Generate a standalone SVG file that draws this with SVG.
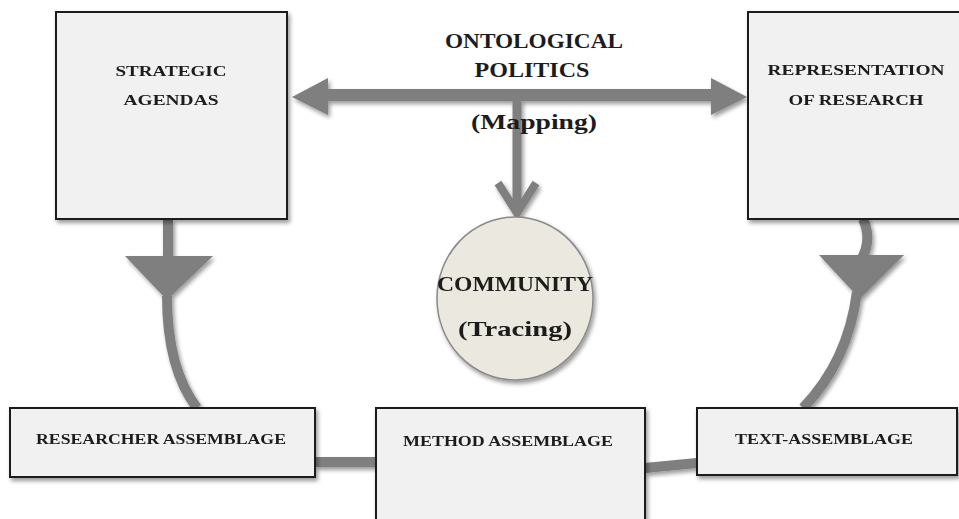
<svg xmlns="http://www.w3.org/2000/svg" width="959" height="519" viewBox="0 0 959 519">
  <defs>
    <filter id="sh" x="-20%" y="-20%" width="140%" height="150%">
      <feGaussianBlur in="SourceAlpha" stdDeviation="2.2"/>
      <feOffset dx="2" dy="3" result="b"/>
      <feComponentTransfer><feFuncA type="linear" slope="0.4"/></feComponentTransfer>
      <feMerge><feMergeNode/><feMergeNode in="SourceGraphic"/></feMerge>
    </filter>
    <style>
      .box { fill: #f1f1f1; stroke: #1a1a1a; stroke-width: 2; }
      .lbl { font-family: "Liberation Serif", "DejaVu Serif", serif; font-weight: bold; fill: #1c1c1c; text-anchor: middle; }
      .sm { font-size: 15px; }
      .big { font-size: 21px; }
      .line { fill: none; stroke: #7f7f7f; stroke-linecap: butt; }
      .head { fill: #7f7f7f; }
    </style>
  </defs>
  <rect width="959" height="519" fill="#ffffff"/>

  <g id="connectors" filter="url(#sh)">
    <!-- ontological politics double arrow -->
    <rect x="325" y="89" width="389" height="12" class="head"/>
    <polygon class="head" points="292,97 328,78 328,115"/>
    <polygon class="head" points="747,97 711,78 711,115"/>
    <!-- vertical to community -->
    <line class="line" x1="517" y1="95" x2="517" y2="212" stroke-width="9"/>
    <polyline class="line" points="498,183 517,213 536,183" stroke-width="8" stroke-linejoin="miter"/>
    <!-- strategic agendas to researcher assemblage -->
    <line class="line" x1="168" y1="219" x2="168" y2="258" stroke-width="10"/>
    <polygon class="head" points="125,256 213,256 167,300"/>
    <path class="line" d="M167,296 C167,345 178,383 197,408" stroke-width="10"/>
    <!-- representation to text assemblage -->
    <path class="line" d="M863,219 C869,232 869,245 862,258" stroke-width="10"/>
    <polygon class="head" points="819,255 904,255 860,299"/>
    <path class="line" d="M857,292 C851,338 834,376 803,408" stroke-width="10"/>
    <!-- researcher to method -->
    <line class="line" x1="315" y1="462" x2="377" y2="462" stroke-width="10"/>
    <!-- method to text -->
    <line class="line" x1="645" y1="468" x2="697" y2="463" stroke-width="10"/>
  </g>

  <g id="strategic-agendas" filter="url(#sh)">
    <rect class="box" x="56" y="12" width="231" height="207"/>
    <text class="lbl sm" x="171" y="76" textLength="111" lengthAdjust="spacingAndGlyphs">STRATEGIC</text>
    <text class="lbl sm" x="171" y="105" textLength="95" lengthAdjust="spacingAndGlyphs">AGENDAS</text>
  </g>

  <g id="representation-of-research" filter="url(#sh)">
    <rect class="box" x="748" y="12" width="215" height="207"/>
    <text class="lbl sm" x="856" y="75" textLength="177" lengthAdjust="spacingAndGlyphs">REPRESENTATION</text>
    <text class="lbl sm" x="856" y="105" textLength="135" lengthAdjust="spacingAndGlyphs">OF RESEARCH</text>
  </g>

  <g id="community" filter="url(#sh)">
    <ellipse cx="515" cy="298.5" rx="78" ry="81.5" fill="#ebe9df" stroke="#8a8a8a" stroke-width="1.5"/>
    <text class="lbl big" x="515" y="291" textLength="156" lengthAdjust="spacingAndGlyphs">COMMUNITY</text>
    <text class="lbl big" x="515" y="336" textLength="114" lengthAdjust="spacingAndGlyphs">(Tracing)</text>
  </g>

  <g id="researcher-assemblage" filter="url(#sh)">
    <rect class="box" x="10" y="408" width="305" height="69"/>
    <text class="lbl sm" x="161" y="444" textLength="250" lengthAdjust="spacingAndGlyphs">RESEARCHER ASSEMBLAGE</text>
  </g>

  <g id="method-assemblage" filter="url(#sh)">
    <rect class="box" x="376" y="408" width="269" height="125"/>
    <text class="lbl sm" x="508" y="446" textLength="210" lengthAdjust="spacingAndGlyphs">METHOD ASSEMBLAGE</text>
  </g>

  <g id="text-assemblage" filter="url(#sh)">
    <rect class="box" x="697" y="408" width="260" height="67"/>
    <text class="lbl sm" x="824" y="444" textLength="178" lengthAdjust="spacingAndGlyphs">TEXT-ASSEMBLAGE</text>
  </g>

  <g id="ontological-politics">
    <text class="lbl big" x="534" y="48" textLength="178" lengthAdjust="spacingAndGlyphs">ONTOLOGICAL</text>
    <text class="lbl big" x="532" y="77" textLength="115" lengthAdjust="spacingAndGlyphs">POLITICS</text>
    <text class="lbl big" x="534" y="129" textLength="126" lengthAdjust="spacingAndGlyphs">(Mapping)</text>
  </g>
</svg>
